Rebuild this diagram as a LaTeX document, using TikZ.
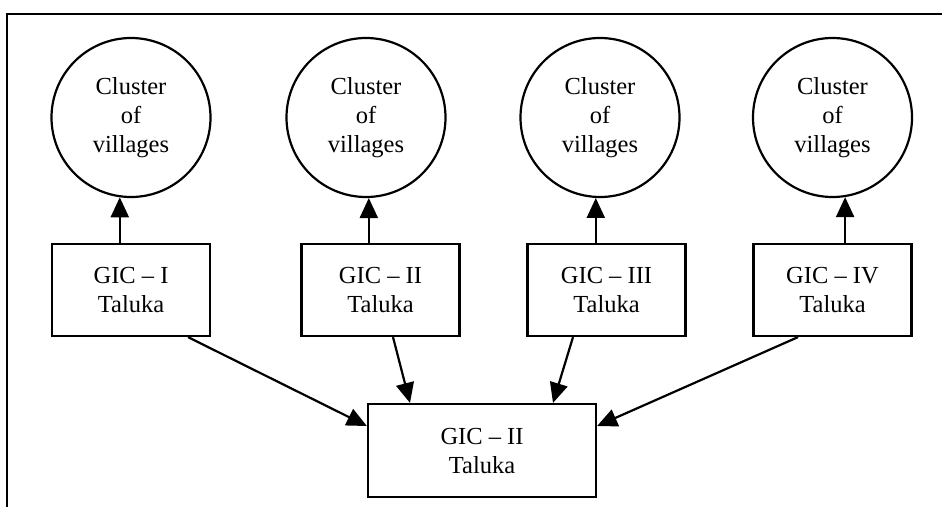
\documentclass[tikz,border=0pt]{standalone}
\usepackage{fontspec}
\setmainfont{Liberation Serif}
\usetikzlibrary{arrows.meta,calc}
\begin{document}
\begin{tikzpicture}[x=1pt,y=-1pt,
  every node/.style={font=\fontsize{24.5}{29}\selectfont},
  village/.style={draw,circle,line width=2.2pt,minimum size=159pt,inner sep=0pt,align=center},
  gic/.style={draw,rectangle,line width=2.2pt,minimum width=158pt,minimum height=92pt,inner sep=0pt,align=center},
  arr/.style={line width=2.2pt,-{Triangle[length=20pt,width=18pt]}},
  frame/.style={line width=2.4pt}]
\useasboundingbox (0,0) rectangle (942,507);
\coordinate (ftl) at (7,14);
\coordinate (ftr) at (942,14);
\coordinate (fbl) at (7,507);
\draw[frame] (ftr) -- (ftl) -- (fbl);

\node[village] (c1) at (131,117.5) {Cluster\\of\\villages};
\node[village] (c2) at (366,117.5) {Cluster\\of\\villages};
\node[village] (c3) at (600,117.5) {Cluster\\of\\villages};
\node[village] (c4) at (832.5,117.5) {Cluster\\of\\villages};

\node[gic] (b1) at (131,290) {GIC – I\\Taluka};
\node[gic] (b2) at (380.5,290) {GIC – II\\Taluka};
\node[gic] (b3) at (606.5,290) {GIC – III\\Taluka};
\node[gic] (b4) at (832.5,290) {GIC – IV\\Taluka};

\node[gic,minimum width=228pt,minimum height=93pt] (bb) at (482,450.5) {GIC – II\\Taluka};

\draw[arr] (c1.-98 |- b1.north) -- (c1.-98);
\draw[arr] (c2.-88.5 |- b2.north) -- (c2.-88.5);
\draw[arr] (c3.-93 |- b3.north) -- (c3.-93);
\draw[arr] (c4.-81.6 |- b4.north) -- (c4.-81.6);

\draw[arr] ($(b1.south)+(57,0)$) -- ($(bb.west)+(0,-24.5)$);
\draw[arr] ($(b2.south)+(12.5,0)$) -- ($(bb.north)+(-72,0)$);
\draw[arr] ($(b3.south)+(-33.5,0)$) -- ($(bb.north)+(71,0)$);
\draw[arr] ($(b4.south)+(-34.5,0)$) -- ($(bb.east)+(0,-24.5)$);
\end{tikzpicture}
\end{document}
